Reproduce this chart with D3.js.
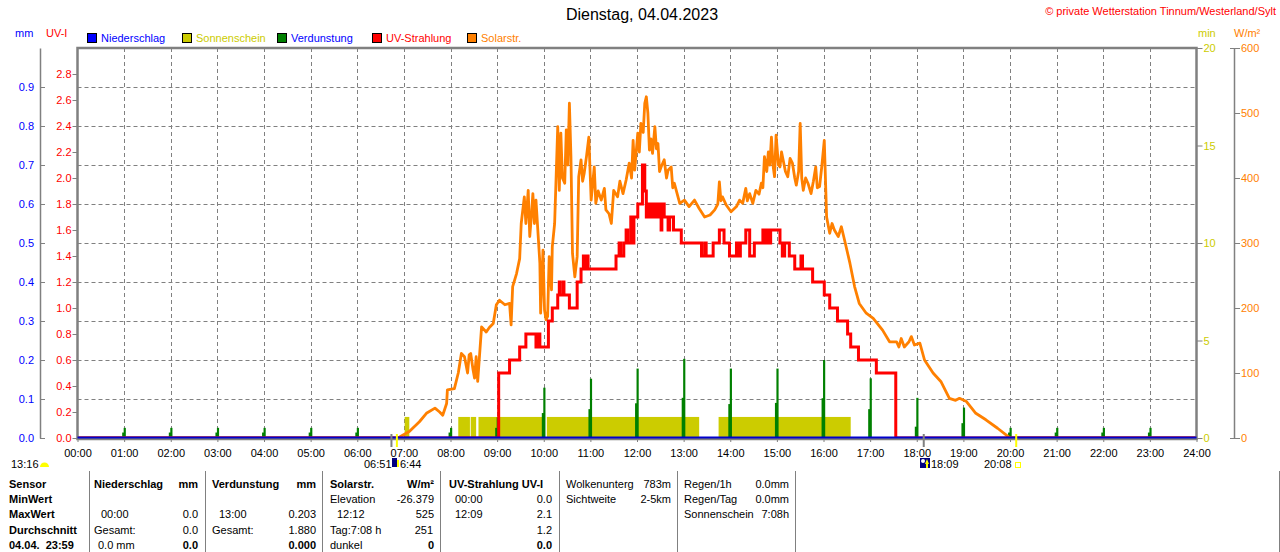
<!DOCTYPE html>
<html><head><meta charset="utf-8">
<script src="https://cdn.jsdelivr.net/npm/d3@7"></script>
<style>
html,body{margin:0;padding:0;background:#fff;}
svg{display:block;font-family:"Liberation Sans",Arial,sans-serif;}
</style></head>
<body>
<svg id="chart" width="1280" height="552"></svg>
<script>
// ---------------- data ----------------
const titleText = "Dienstag, 04.04.2023";
const copyrightText = "\u00A9 private Wetterstation Tinnum/Westerland/Sylt";
const hourLabels = ["00:00","01:00","02:00","03:00","04:00","05:00","06:00","07:00","08:00","09:00","10:00","11:00","12:00",
  "13:00","14:00","15:00","16:00","17:00","18:00","19:00","20:00","21:00","22:00","23:00","24:00"];
const mmTicks = [0.0,0.1,0.2,0.3,0.4,0.5,0.6,0.7,0.8,0.9];
const uvTicks = [0.0,0.2,0.4,0.6,0.8,1.0,1.2,1.4,1.6,1.8,2.0,2.2,2.4,2.6,2.8];
const minTicks = [0,5,10,15,20];
const solTicks = [0,100,200,300,400,500,600];
const legendNames = ["Niederschlag","Sonnenschein","Verdunstung","UV-Strahlung","Solarstr."];

// Sonnenschein (min), blocks [start, end, value]
const sunshine = [["07:01","07:07",1.08],["08:10","08:25",1.08],["08:26","08:33",1.08],["08:36","10:01",1.08],
  ["10:04","13:20",1.08],["13:45","16:35",1.08]];

// Verdunstung (mm): hour, main value, side value
const evapTimes = ["01:00","02:00","03:00","04:00","05:00","06:00","08:00","09:00","10:00","11:00","12:00","13:00",
  "14:00","15:00","16:00","17:00","18:00","19:00","20:00","21:00","22:00","23:00"];
const evapMain = [0.026,0.026,0.026,0.026,0.026,0.026,0.026,0.053,0.129,0.152,0.178,0.203,
  0.178,0.178,0.200,0.153,0.103,0.078,0.026,0.026,0.026,0.026];
const evapSide = [0.014,0.014,0.014,0.014,0.014,0.014,0.014,0.026,0.064,0.074,0.089,0.103,
  0.087,0.090,0.102,0.074,0.029,0.038,0.014,0.014,0.014,0.014];

// Niederschlag (mm)
const rain = [["00:00",0],["24:00",0]];

// UV-Strahlung (UV-I), step values
const uvSeries = [["00:00",0],["09:02",0.5],["09:16",0.6],["09:29",0.7],["09:37",0.8],["09:50",0.7],["09:52",0.8],["09:55",0.7],
  ["10:06",0.9],["10:11",1.0],["10:18",1.1],["10:20",1.2],["10:21",1.1],["10:25",1.2],["10:26",1.1],["10:33",1.0],
  ["10:43",1.2],["10:48",1.3],["10:51",1.4],["10:53",1.3],["10:55",1.4],["10:57",1.3],["11:33",1.4],["11:37",1.5],
  ["11:39",1.4],["11:43",1.5],["11:46",1.6],["11:48",1.5],["11:52",1.7],["11:54",1.5],["11:56",1.7],["12:01",1.8],
  ["12:07",2.1],["12:10",1.9],["12:12",1.7],["12:14",1.8],["12:16",1.7],["12:18",1.8],["12:21",1.7],["12:23",1.8],
  ["12:26",1.7],["12:28",1.8],["12:31",1.6],["12:32",1.8],["12:35",1.7],["12:40",1.6],["12:42",1.7],["12:47",1.6],
  ["12:57",1.5],["13:23",1.4],["13:27",1.5],["13:29",1.4],["13:38",1.5],["13:46",1.6],["13:52",1.5],["13:59",1.4],
  ["14:08",1.5],["14:11",1.4],["14:13",1.5],["14:20",1.6],["14:25",1.4],["14:31",1.5],["14:42",1.6],["14:45",1.5],
  ["14:47",1.6],["14:50",1.5],["14:52",1.6],["15:04",1.5],["15:07",1.4],["15:10",1.5],["15:16",1.4],["15:23",1.3],
  ["15:31",1.4],["15:33",1.3],["15:46",1.2],["16:01",1.1],["16:08",1.0],["16:18",0.9],["16:31",0.8],["16:35",0.7],
  ["16:45",0.6],["17:08",0.5],["17:33",0.0],["24:00",0.0]];

// Solarstrahlung (W/m²)
const solarSeries = [["00:00",0],["06:53",0],["06:55",2],["07:07",10],["07:20",25],["07:29",38],["07:40",46],["07:46",40],
  ["07:50",35],["07:55",53],["07:56",74],["08:05",76],["08:10",100],["08:14",130],["08:18",125],["08:22",100],
  ["08:24",128],["08:26",130],["08:29",105],["08:31",92],["08:33",125],["08:35",87],["08:40",171],["08:46",163],
  ["08:50",170],["08:55",176],["08:59",205],["09:03",212],["09:10",205],["09:16",207],["09:18",174],["09:20",233],
  ["09:25",253],["09:29",276],["09:31",330],["09:35",371],["09:37",330],["09:40",381],["09:42",310],["09:44",340],
  ["09:46",376],["09:48",330],["09:50",366],["09:55",269],["09:56",192],["09:59",289],["10:01",197],["10:03",182],
  ["10:05",187],["10:07",279],["10:10",228],["10:11",294],["10:14",330],["10:18",479],["10:20",381],["10:22",469],
  ["10:24",400],["10:27",392],["10:29",474],["10:31",420],["10:33",515],["10:35",433],["10:37",284],["10:40",248],
  ["10:43",279],["10:45",402],["10:48",428],["10:50",395],["10:52",407],["10:55",433],["10:58",463],["11:01",366],
  ["11:05",417],["11:07",361],["11:10",380],["11:14",366],["11:18",384],["11:20",351],["11:24",345],["11:27",330],
  ["11:30",381],["11:35",371],["11:38",395],["11:42",376],["11:46",397],["11:50",423],["11:53",400],["11:55",458],
  ["11:57",412],["12:01",469],["12:03",440],["12:05",484],["12:08",470],["12:10",515],["12:12",525],["12:14",500],
  ["12:16",443],["12:18",460],["12:20",438],["12:23",479],["12:25",445],["12:27",453],["12:29",410],["12:31",417],
  ["12:35",428],["12:38",400],["12:40",412],["12:44",417],["12:46",385],["12:48",392],["12:55",361],["13:01",366],
  ["13:07",356],["13:14",366],["13:20",353],["13:27",340],["13:34",343],["13:40",351],["13:44",360],["13:46",394],
  ["13:48",365],["13:50",371],["13:55",358],["14:01",348],["14:08",356],["14:12",366],["14:16",361],["14:20",384],
  ["14:22",365],["14:25",376],["14:29",361],["14:33",381],["14:37",375],["14:40",392],["14:42",385],["14:44",433],
  ["14:47",410],["14:49",440],["14:51",420],["14:53",463],["14:55",420],["14:57",402],["14:59",466],["15:02",420],
  ["15:04",417],["15:06",440],["15:08",428],["15:11",410],["15:14",402],["15:17",430],["15:20",423],["15:23",400],
  ["15:25",389],["15:28",410],["15:30",484],["15:32",400],["15:34",381],["15:37",400],["15:40",392],["15:44",376],
  ["15:47",395],["15:50",417],["15:52",385],["15:55",387],["15:58",420],["16:01",458],["16:03",380],["16:04",340],
  ["16:08",315],["16:11",330],["16:14",320],["16:19",310],["16:23",325],["16:27",305],["16:34",269],["16:40",233],
  ["16:46",207],["16:55",192],["17:04",184],["17:16",166],["17:25",148],["17:34",148],["17:37",140],["17:40",153],
  ["17:44",140],["17:50",148],["17:53",156],["17:57",143],["18:04",146],["18:10",120],["18:21",100],["18:31",87],
  ["18:42",61],["18:50",58],["18:55",61],["19:04",56],["19:16",38],["19:29",28],["19:44",15],["19:57",3],["20:00",0],["24:00",0]];

// sun / moon markers on the time axis
const moonTimes = ["06:44","18:09"];
const sunTimes = ["06:51","20:08"];

// ---------------- helpers ----------------
const toH = s => { const [h,m] = s.split(":").map(Number); return h + m/60; };
const svg = d3.select("#chart");
const FONT = '"Liberation Sans",Arial,sans-serif';
const L = 77.5, R = 1196.5, T = 48, B = 438;

const x = d3.scaleLinear().domain([0,24]).range([L,R]);
const yMM = d3.scaleLinear().domain([0,1]).range([B,T]);
const yUV = d3.scaleLinear().domain([0,3]).range([B,T]);
const yMin = d3.scaleLinear().domain([0,20]).range([B,T]);
const ySol = d3.scaleLinear().domain([0,600]).range([B,T]);

const GRAY = "#808080", BLUE = "#0000ff", YEL = "#cccc00", GREEN = "#008000", RED = "#ff0000", ORANGE = "#ff8000";

svg.append("defs").append("clipPath").attr("id","plotclip")
  .append("rect").attr("x",L).attr("y",T).attr("width",R-L).attr("height",B-T);

// ---------------- titles ----------------
svg.append("text").attr("x",642).attr("y",20).attr("text-anchor","middle")
  .attr("font-size",16).attr("fill","#000").text(titleText);
svg.append("text").attr("x",1276).attr("y",15).attr("text-anchor","end")
  .attr("font-size",11).attr("fill",RED).text(copyrightText);

// units
svg.append("text").attr("x",15).attr("y",37).attr("font-size",11).attr("fill",BLUE).text("mm");
svg.append("text").attr("x",46).attr("y",37).attr("font-size",11).attr("fill",RED).text("UV-I");
svg.append("text").attr("x",1198).attr("y",37).attr("font-size",11).attr("fill",YEL).text("min");
svg.append("text").attr("x",1234).attr("y",37).attr("font-size",11).attr("fill",ORANGE).text("W/m\u00B2");

// legend
const legColors = [BLUE, YEL, GREEN, RED, ORANGE];
const legTextColors = [BLUE, YEL, BLUE, RED, ORANGE];
const leg = svg.append("g").selectAll("g").data(legendNames).join("g")
  .attr("transform",(d,i)=>`translate(${87+i*95},33)`);
leg.append("rect").attr("x",0.5).attr("y",0.5).attr("width",9).attr("height",9)
  .attr("fill",(d,i)=>legColors[i]).attr("stroke","#000").attr("stroke-width",1);
leg.append("text").attr("x",14).attr("y",9).attr("font-size",11)
  .attr("fill",(d,i)=>legTextColors[i]).text(d=>d);

// ---------------- grid ----------------
const grid = svg.append("g").attr("stroke",GRAY).attr("stroke-width",1).attr("stroke-dasharray","4,3");
grid.selectAll("line.h").data(mmTicks.filter(v=>v>0)).join("line").attr("class","h")
  .attr("x1",L).attr("x2",R).attr("y1",d=>Math.round(yMM(d))+0.5).attr("y2",d=>Math.round(yMM(d))+0.5);
grid.selectAll("line.v").data(d3.range(1,24)).join("line").attr("class","v")
  .attr("y1",T).attr("y2",B).attr("x1",d=>Math.round(x(d))+0.5).attr("x2",d=>Math.round(x(d))+0.5);

// ---------------- data marks ----------------
const plot = svg.append("g").attr("clip-path","url(#plotclip)");

// sunshine blocks
plot.append("g").selectAll("rect").data(sunshine).join("rect")
  .attr("x",d=>x(toH(d[0]))).attr("width",d=>x(toH(d[1]))-x(toH(d[0])))
  .attr("y",d=>yMin(d[2])).attr("height",d=>B-yMin(d[2])).attr("fill",YEL);

// evaporation spikes
const evap = evapTimes.map((t,i)=>({h:toH(t), v:evapMain[i], s:evapSide[i]}));
const eg = plot.append("g").attr("fill",GREEN);
eg.selectAll("rect.s").data(evap).join("rect").attr("class","s")
  .attr("x",d=>x(d.h-2.5/60)).attr("width",d=>x(d.h+0.5/60)-x(d.h-2.5/60))
  .attr("y",d=>yMM(d.s)).attr("height",d=>B-yMM(d.s));
eg.selectAll("rect.m").data(evap).join("rect").attr("class","m")
  .attr("x",d=>x(d.h-0.6/60)).attr("width",d=>x(d.h+2.2/60)-x(d.h-0.6/60))
  .attr("y",d=>yMM(d.v)).attr("height",d=>B-yMM(d.v));

// solar line
plot.append("path").datum(solarSeries)
  .attr("d",d3.line().x(d=>x(toH(d[0]))).y(d=>ySol(d[1])))
  .attr("fill","none").attr("stroke",ORANGE).attr("stroke-width",2.8).attr("stroke-linejoin","round");

// UV line
plot.append("path").datum(uvSeries)
  .attr("d",d3.line().curve(d3.curveStepAfter).x(d=>x(toH(d[0]))).y(d=>yUV(d[1])))
  .attr("fill","none").attr("stroke",RED).attr("stroke-width",3);

// ---------------- axes ----------------
function styleAxis(g, color){
  g.attr("font-family",FONT).attr("font-size",11);
  g.selectAll(".tick line").attr("stroke",GRAY);
  g.selectAll(".tick text").attr("fill",color);
  g.select(".domain").attr("stroke",GRAY);
}
// mm axis
const gMM = svg.append("g").attr("transform",`translate(40,0)`)
  .call(d3.axisLeft(yMM).tickValues(mmTicks).tickFormat(d3.format(".1f")).tickSizeInner(-5).tickSizeOuter(0).tickPadding(6));
styleAxis(gMM, BLUE); gMM.select(".domain").attr("stroke-width",1.5);
// UV axis
const gUV = svg.append("g").attr("transform",`translate(${L},0)`)
  .call(d3.axisLeft(yUV).tickValues(uvTicks).tickFormat(d3.format(".1f")).tickSize(5).tickPadding(1));
styleAxis(gUV, RED); gUV.select(".domain").remove();
// min axis
const gMin = svg.append("g").attr("transform",`translate(${R},0)`)
  .call(d3.axisRight(yMin).tickValues(minTicks).tickSize(6).tickPadding(1));
styleAxis(gMin, YEL); gMin.select(".domain").remove();
// W/m² axis
const gSol = svg.append("g").attr("transform",`translate(1234,0)`)
  .call(d3.axisRight(ySol).tickValues(solTicks).tickSize(6).tickSizeOuter(0).tickPadding(1));
styleAxis(gSol, ORANGE); gSol.select(".domain").attr("stroke-width",1.5);
gSol.selectAll(".end").data([0,600]).join("line").attr("class","end")
  .attr("x1",-4).attr("x2",0).attr("y1",d=>ySol(d)+0.5).attr("y2",d=>ySol(d)+0.5).attr("stroke",GRAY);
// x axis
const gX = svg.append("g").attr("transform",`translate(0,${B})`)
  .call(d3.axisBottom(x).tickValues(d3.range(0,25)).tickFormat(i=>hourLabels[i]).tickSize(4).tickSizeOuter(0).tickPadding(7));
styleAxis(gX, "#000"); gX.select(".domain").remove();

// plot border
svg.append("rect").attr("x",L).attr("y",T).attr("width",R-L).attr("height",B-T+1)
  .attr("fill","none").attr("stroke",GRAY).attr("stroke-width",2.5);

// rain baseline (Niederschlag)
svg.append("path").datum(rain)
  .attr("d",d3.line().x(d=>x(toH(d[0]))).y(d=>yMM(d[1])-0.5))
  .attr("stroke","#0000cc").attr("stroke-width",2).attr("fill","none");

// sun / moon markers
svg.append("g").selectAll("rect").data(moonTimes).join("rect")
  .attr("x",d=>x(toH(d))-1).attr("width",2).attr("y",434).attr("height",13).attr("fill",GRAY);
svg.append("g").selectAll("rect").data(sunTimes).join("rect")
  .attr("x",d=>x(toH(d))-1).attr("width",2).attr("y",434).attr("height",13).attr("fill","#ffff00");

// ---------------- bottom info row ----------------
const info = svg.append("g").attr("font-size",11).attr("fill","#000");
info.append("text").attr("x",11).attr("y",468).text("13:16");
info.append("path").attr("d","M40,467 A4.5,4.5 0 0 1 49,467 Z").attr("fill","#ffff00");
info.append("text").attr("x",364).attr("y",468).text("06:51");
info.append("rect").attr("x",392).attr("y",458).attr("width",5).attr("height",9).attr("fill","#000080");
info.append("rect").attr("x",397).attr("y",460).attr("width",2).attr("height",7).attr("fill","#ffff00");
info.append("text").attr("x",400).attr("y",468).text("6:44");
info.append("rect").attr("x",920).attr("y",458).attr("width",10).attr("height",10).attr("fill","#000080");
info.append("circle").attr("cx",923).attr("cy",461).attr("r",2).attr("fill","#fff");
info.append("path").attr("d","M927,459 L925,464 L926,464 L926,468 L928,468 L928,464 L929,464 Z").attr("fill","#ffff00");
info.append("text").attr("x",931).attr("y",468).text("18:09");
info.append("text").attr("x",984).attr("y",468).text("20:08");
info.append("rect").attr("x",1015.5).attr("y",462.5).attr("width",5).attr("height",5).attr("fill","none").attr("stroke","#ffff00");

// ---------------- table ----------------
const tableDividers = [89,205,322,440,559,677,795,1279];
svg.append("g").selectAll("line").data(tableDividers).join("line")
  .attr("x1",d=>d+0.5).attr("x2",d=>d+0.5).attr("y1",471).attr("y2",552)
  .attr("stroke",GRAY).attr("stroke-width",1);

const rowY = [488,503,518,534,549];
// [text, x, row, anchor, bold]
const tableCells = [
  ["Sensor",9,0,"start",1],["MinWert",9,1,"start",1],["MaxWert",9,2,"start",1],["Durchschnitt",9,3,"start",1],["04.04.  23:59",9,4,"start",1],
  ["Niederschlag",94,0,"start",1],["mm",198,0,"end",1],
  ["00:00",101,2,"start",0],["0.0",198,2,"end",0],["Gesamt:",94,3,"start",0],["0.0",198,3,"end",0],["0.0 mm",98,4,"start",0],["0.0",198,4,"end",1],
  ["Verdunstung",212,0,"start",1],["mm",316,0,"end",1],
  ["13:00",219,2,"start",0],["0.203",316,2,"end",0],["Gesamt:",212,3,"start",0],["1.880",316,3,"end",0],["0.000",316,4,"end",1],
  ["Solarstr.",330,0,"start",1],["W/m\u00B2",434,0,"end",1],
  ["Elevation",330,1,"start",0],["-26.379",434,1,"end",0],["12:12",337,2,"start",0],["525",434,2,"end",0],
  ["Tag:7:08 h",330,3,"start",0],["251",433,3,"end",0],["dunkel",330,4,"start",0],["0",434,4,"end",1],
  ["UV-Strahlung UV-I",449,0,"start",1],
  ["00:00",455,1,"start",0],["0.0",552,1,"end",0],["12:09",455,2,"start",0],["2.1",552,2,"end",0],["1.2",552,3,"end",0],["0.0",552,4,"end",1],
  ["Wolkenunterg",566,0,"start",0],["783m",671,0,"end",0],["Sichtweite",566,1,"start",0],["2-5km",671,1,"end",0],
  ["Regen/1h",684,0,"start",0],["0.0mm",789,0,"end",0],["Regen/Tag",684,1,"start",0],["0.0mm",789,1,"end",0],
  ["Sonnenschein",684,2,"start",0],["7:08h",789,2,"end",0]
];
svg.append("g").attr("font-size",11).attr("fill","#000").selectAll("text").data(tableCells).join("text")
  .attr("x",d=>d[1]).attr("y",d=>rowY[d[2]]).attr("text-anchor",d=>d[3])
  .attr("font-weight",d=>d[4]?"bold":"normal").attr("xml:space","preserve").style("white-space","pre").text(d=>d[0]);
</script>
</body></html>
